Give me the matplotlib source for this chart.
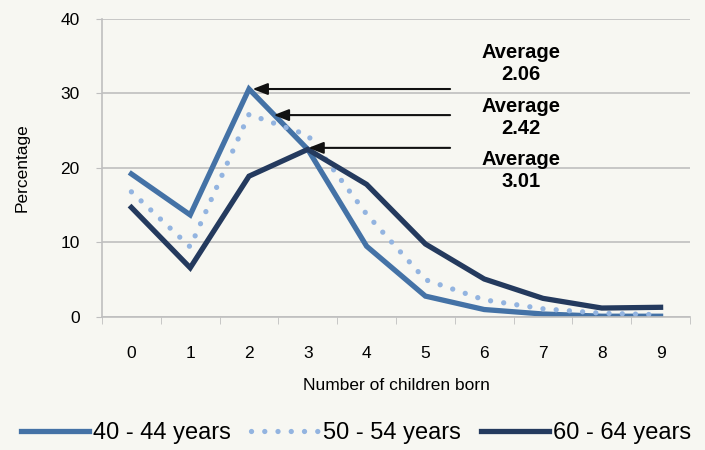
import numpy as np
import matplotlib
matplotlib.use('Agg')
import matplotlib.pyplot as plt

# DATA
children = [0, 1, 2, 3, 4, 5, 6, 7, 8, 9]
age_40_44 = [19.2, 13.7, 30.6, 22.5, 9.5, 2.8, 1.0, 0.4, 0.1, 0.1]
age_50_54 = [16.8, 9.4, 27.2, 24.4, 13.8, 5.0, 2.3, 1.1, 0.5, 0.3]
age_60_64 = [14.7, 6.6, 18.9, 22.5, 17.8, 9.8, 5.1, 2.5, 1.2, 1.3]

averages = [2.06, 2.42, 3.01]
arrow_y = [30.6, 27.1, 22.7]
label_y = [34.0, 26.8, 19.6]

plt.rcParams['font.family'] = ['Liberation Sans', 'DejaVu Sans']

bg = '#f7f7f2'
grid_col = '#bfbfbf'

fig = plt.figure(figsize=(7.05, 4.5), dpi=100, facecolor=bg)
ax = fig.add_axes([0.1447, 0.2956, 0.834, 0.6622], facecolor=bg)

ax.plot(children, age_40_44, color='#4472a6', lw=3.8, label='40 - 44 years', solid_joinstyle='miter')
ax.plot(children, age_50_54, color='#93b4e0', lw=3.8, ls=(0, (0.01, 2.5)),
        dash_capstyle='round', label='50 - 54 years')
ax.plot(children, age_60_64, color='#243a5e', lw=3.8, label='60 - 64 years', solid_joinstyle='miter')

# ARROWS + LABELS
for avg, ay, ly in zip(averages, arrow_y, label_y):
    ax.annotate('', xy=(avg, ay), xytext=(5.42, ay),
                arrowprops=dict(arrowstyle='-|>,head_length=0.9,head_width=0.35',
                                color='#111111', lw=1.5, shrinkA=0, shrinkB=0))
    ax.text(6.62, ly, 'Average\n%.2f' % avg, ha='center', va='center',
            fontsize=14.5, fontweight='bold', linespacing=1.2)

# AXES
ax.set_xlim(-0.5, 9.5)
ax.set_ylim(0, 40)
ax.set_yticks([0, 10, 20, 30, 40])
ax.set_xticks(children)
ax.set_xticks(np.arange(-0.5, 10, 1), minor=True)
ax.tick_params(axis='x', which='major', length=0, labelsize=12.5, pad=21)
ax.tick_params(axis='x', which='minor', length=5, color=grid_col)
ax.tick_params(axis='y', length=4, color=grid_col, labelsize=12.5, pad=12)
ax.yaxis.grid(True, color=grid_col, lw=1.2)
ax.set_axisbelow(True)
for s in ['top', 'right']:
    ax.spines[s].set_visible(False)
for s in ['left', 'bottom']:
    ax.spines[s].set_color(grid_col)
    ax.spines[s].set_linewidth(1.2)

ax.set_xlabel('Number of children born', fontsize=12.5, labelpad=12)
ax.set_ylabel('Percentage', fontsize=12.5, labelpad=22)

leg = fig.legend(loc='center', bbox_to_anchor=(0.505, 0.037), ncol=3, frameon=False,
                 fontsize=17, handlelength=2.9, columnspacing=0.85, handletextpad=0.15)

plt.savefig('out.png', dpi=100, facecolor=bg)
